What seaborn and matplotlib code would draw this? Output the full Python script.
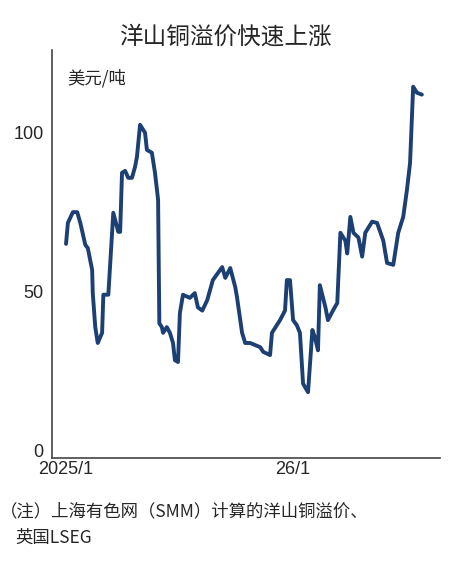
import matplotlib
matplotlib.use("Agg")
import matplotlib.pyplot as plt
import seaborn as sns
import pandas as pd

days = [0,3,11,18,23,31,35,42,43,47,51,58,60,68,76,84,87,90,95,100,106,111,114,119,127,130,138,143,148,150,154,156,162,167,172,175,180,183,188,199,207,212,219,227,236,251,256,264,272,275,283,288,296,312,317,328,331,344,352,355,360,365,371,376,381,389,396,400,405,408,417,421,429,436,441,449,452,457,462,470,476,481,492,500,510,516,526,534,542,548,553,558,564,572]
premium = [65,71.6,75,75,71.6,64.7,63.7,56.8,49.5,38.8,33.8,37,49,49,74.8,68.8,68.8,87.4,88,85.8,85.8,89.3,92.4,102.5,100,94.6,93.7,87.4,78.9,40,38.8,37,38.8,37,33.8,28.4,27.8,43.2,49,48,49.5,45,44,47.3,53.6,57.7,54.3,57.4,51.4,48,37,33.8,33.8,32.5,31,30,37,41,44,53.6,53.6,41,39.4,37,21,18.3,37.9,35.6,31.5,52,45,41,44,46.4,68.5,66,62,73.5,68.5,67,61,68.5,72,71.6,66,59,58.4,68.5,73.5,82,90.5,114.5,112.6,112]
tick_days = [0, 365]
tick_labels = ["2025/1", "26/1"]
yticks = [0, 50, 100]

sns.set_theme(style="white")
plt.rcParams['font.family'] = ['Noto Sans CJK SC', 'DejaVu Sans']

df = pd.DataFrame({"day": days, "v": premium})
fig = plt.figure(figsize=(4.5, 5.7), dpi=100)
ax = fig.add_axes([0.1156, 0.196, 0.862, 0.716])
sns.lineplot(data=df, x="day", y="v", ax=ax, color="#1c3f74", linewidth=2.8)
ax.set_xlim(-22.5, 601)
ax.set_ylim(-2.5, 126)
ax.set_xticks(tick_days)
ax.set_xticklabels(tick_labels, fontsize=13, family=['Liberation Sans'])
ax.set_yticks(yticks)
ax.set_yticklabels([str(t) for t in yticks], fontsize=13, family=['Liberation Sans'])
ax.tick_params(axis='x', direction='in', length=5, color='#444', pad=2)
ax.tick_params(axis='y', direction='out', length=4, color='#444', pad=2)
for s in ['top', 'right']:
    ax.spines[s].set_visible(False)
for s in ['left', 'bottom']:
    ax.spines[s].set_color('#444')
    ax.spines[s].set_linewidth(1.2)
ax.set_xlabel("")
ax.set_ylabel("")
ax.text(0.04, 0.93, "美元/吨", transform=ax.transAxes, fontsize=12.5, ha='left', va='center')
fig.text(0.5, 0.935, "洋山铜溢价快速上涨", fontsize=17, fontweight='medium', ha='center', va='center')
fig.text(0.0, 0.103, "（注）上海有色网（SMM）计算的洋山铜溢价、", fontsize=12.5, ha='left', va='center')
fig.text(0.035, 0.057, "英国LSEG", fontsize=12.5, ha='left', va='center')
fig.savefig("out.png", dpi=100)
